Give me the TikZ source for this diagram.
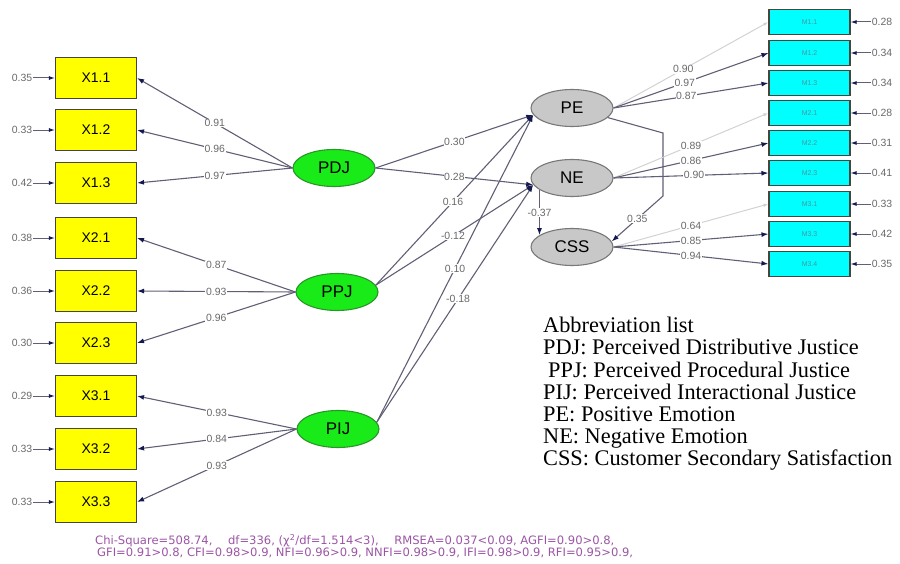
\documentclass[tikz,border=0pt]{standalone}
\usepackage{fontspec}
\setmainfont{Liberation Serif}
\setsansfont{Liberation Sans}
\newfontfamily\fitfont{DejaVu Sans}
\usepackage{tikz}
\usetikzlibrary{arrows.meta,positioning,shapes.geometric}
\definecolor{semedge}{RGB}{95,95,118}
\definecolor{semtip}{RGB}{20,25,80}
\definecolor{semline}{RGB}{70,70,60}
\definecolor{semyel}{RGB}{255,255,0}
\definecolor{semgrn}{RGB}{25,235,25}
\definecolor{semgrnd}{RGB}{40,150,40}
\definecolor{semgry}{RGB}{200,200,200}
\definecolor{semgryd}{RGB}{120,120,120}
\definecolor{semcyn}{RGB}{0,255,255}
\definecolor{semfaint}{RGB}{210,210,210}
\definecolor{semlbl}{RGB}{105,105,105}
\definecolor{semmtxt}{RGB}{70,150,160}
\definecolor{semfit}{RGB}{155,85,165}
\tikzset{
  sembox/.style={
    draw=semline, line width=1.1pt, align=center, inner sep=0pt,
    font=\fontsize{14}{14}\sffamily
  },
  obsx/.style={sembox, fill=semyel, minimum width=81bp, minimum height=41bp},
  obsm/.style={sembox, fill=semcyn, minimum width=81bp, minimum height=25bp,
    font=\fontsize{7}{7}\sffamily, text=semmtxt},
  lat/.style={ellipse, draw=semgrnd, line width=1.1pt, fill=semgrn,
    minimum width=82bp, minimum height=37bp, inner sep=0pt,
    font=\fontsize{17}{17}\sffamily},
  emo/.style={lat, draw=semgryd, fill=semgry},
  arr/.style={-{Latex[length=7bp,width=5bp,color=semtip]}, draw=semedge, line width=1.1pt},
  farr/.style={-{Latex[length=5bp,width=3.5bp,color=semfaint]}, draw=semfaint, line width=1pt},
  earr/.style={-{Latex[length=6bp,width=4bp,color=semtip]}, draw=semedge, line width=1pt},
  coef/.style={fill=white, inner sep=0.6pt, text=semlbl, font=\fontsize{10.5}{10.5}\sffamily},
  err/.style={inner sep=0.5pt, text=semlbl, font=\fontsize{10.5}{10.5}\sffamily},
  fit/.style={text=semfit, anchor=west, inner sep=0pt, font=\fontsize{11.6}{11.6}\fitfont}
}
\begin{document}
\begin{tikzpicture}[x=1bp, y=-1bp]
  \useasboundingbox (0,0) rectangle (900,564);
  % observed indicators, left
  \node[obsx] (X11) at (96,78) {X1.1};
  \node[obsx] (X12) at (96,130) {X1.2};
  \node[obsx] (X13) at (96,183) {X1.3};
  \node[obsx] (X21) at (96,238) {X2.1};
  \node[obsx] (X22) at (96,291) {X2.2};
  \node[obsx] (X23) at (96,343) {X2.3};
  \node[obsx] (X31) at (96,396) {X3.1};
  \node[obsx] (X32) at (96,449) {X3.2};
  \node[obsx] (X33) at (96,502) {X3.3};
  % latent factors
  \node[lat] (PDJ) at (334,168) {PDJ};
  \node[lat] (PPJ) at (337,292) {PPJ};
  \node[lat] (PIJ) at (338,429) {PIJ};
  \node[emo] (PE) at (572,108) {PE};
  \node[emo] (NE) at (572,178) {NE};
  \node[emo] (CSS) at (572,247) {CSS};
  % observed indicators, right
  \node[obsm] (M11) at (809.5,22) {M1.1};
  \node[obsm] (M12) at (809.5,53) {M1.2};
  \node[obsm] (M13) at (809.5,83) {M1.3};
  \node[obsm] (M21) at (809.5,113) {M2.1};
  \node[obsm] (M22) at (809.5,143) {M2.2};
  \node[obsm] (M23) at (809.5,173) {M2.3};
  \node[obsm] (M31) at (809.5,204) {M3.1};
  \node[obsm] (M33) at (809.5,234) {M3.3};
  \node[obsm] (M34) at (809.5,264) {M3.4};
  % error terms
  \node[err] (e11) at (22,78) {0.35};
  \node[err] (e12) at (22,130) {0.33};
  \node[err] (e13) at (22,183) {0.42};
  \node[err] (e21) at (22,238) {0.38};
  \node[err] (e22) at (22,291) {0.36};
  \node[err] (e23) at (22,343) {0.30};
  \node[err] (e31) at (22,396) {0.29};
  \node[err] (e32) at (22,449) {0.33};
  \node[err] (e33) at (22,502) {0.33};
  \node[err] (d11) at (882,22) {0.28};
  \node[err] (d12) at (882,53) {0.34};
  \node[err] (d13) at (882,83) {0.34};
  \node[err] (d21) at (882,113) {0.28};
  \node[err] (d22) at (882,143) {0.31};
  \node[err] (d23) at (882,173) {0.41};
  \node[err] (d31) at (882,204) {0.33};
  \node[err] (d33) at (882,234) {0.42};
  \node[err] (d34) at (882,264) {0.35};
  \draw[earr] (e11) -- (X11);
  \draw[earr] (e12) -- (X12);
  \draw[earr] (e13) -- (X13);
  \draw[earr] (e21) -- (X21);
  \draw[earr] (e22) -- (X22);
  \draw[earr] (e23) -- (X23);
  \draw[earr] (e31) -- (X31);
  \draw[earr] (e32) -- (X32);
  \draw[earr] (e33) -- (X33);
  \draw[earr] (d11) -- (M11);
  \draw[earr] (d12) -- (M12);
  \draw[earr] (d13) -- (M13);
  \draw[earr] (d21) -- (M21);
  \draw[earr] (d22) -- (M22);
  \draw[earr] (d23) -- (M23);
  \draw[earr] (d31) -- (M31);
  \draw[earr] (d33) -- (M33);
  \draw[earr] (d34) -- (M34);
  % loadings, left
  \draw[arr] (PDJ.west) -- node[coef] {0.91} (X11.east);
  \draw[arr] (PDJ.west) -- node[coef] {0.96} (X12.east);
  \draw[arr] (PDJ.west) -- node[coef] {0.97} (X13.east);
  \draw[arr] (PPJ.west) -- node[coef] {0.87} (X21.east);
  \draw[arr] (PPJ.west) -- node[coef] {0.93} (X22.east);
  \draw[arr] (PPJ.west) -- node[coef] {0.96} (X23.east);
  \draw[arr] (PIJ.west) -- node[coef] {0.93} (X31.east);
  \draw[arr] (PIJ.west) -- node[coef] {0.84} (X32.east);
  \draw[arr] (PIJ.west) -- node[coef] {0.93} (X33.east);
  % structural paths
  \draw[arr] (PDJ.east) -- node[coef] {0.30} (PE.190);
  \draw[arr] (PDJ.east) -- node[coef] {0.28} (NE.190);
  \draw[arr] (PPJ.10) -- node[coef, pos=0.49] {0.16} (PE.190);
  \draw[arr] (PPJ.10) -- node[coef, pos=0.49] {-0.12} (NE.190);
  \draw[arr] (PIJ.10) -- node[coef, pos=0.5] {0.10} (PE.190);
  \draw[arr] (PIJ.10) -- node[coef, pos=0.52] {-0.18} (NE.190);
  \draw[arr] (NE.200) -- node[coef] {-0.37} (CSS.160);
  \coordinate (bendA) at (663,133);
  \coordinate (bendB) at (663,196);
  \draw[arr] (PE.-15) -- (bendA) -- (bendB) -- node[coef] {0.35} (CSS.8);
  % loadings, right
  \draw[farr] (PE.east) -- node[coef, pos=0.45] {0.90} (M11.west);
  \draw[arr] (PE.east) -- node[coef, pos=0.46] {0.97} (M12.west);
  \draw[arr] (PE.east) -- node[coef, pos=0.47] {0.87} (M13.west);
  \draw[farr] (NE.east) -- node[coef, pos=0.5] {0.89} (M21.west);
  \draw[arr] (NE.east) -- node[coef, pos=0.5] {0.86} (M22.west);
  \draw[arr] (NE.east) -- node[coef, pos=0.52] {0.90} (M23.west);
  \draw[farr] (CSS.east) -- node[coef, pos=0.5] {0.64} (M31.west);
  \draw[arr] (CSS.east) -- node[coef, pos=0.5] {0.85} (M33.west);
  \draw[arr] (CSS.east) -- node[coef, pos=0.5] {0.94} (M34.west);
  % legend and fit
  \node[anchor=north west, align=left, inner sep=0pt,
    font=\fontsize{22.4}{22.3}\selectfont] (abbr) at (543,317)
    {Abbreviation list\\
     PDJ: Perceived Distributive Justice\\
     \hspace{5bp}PPJ: Perceived Procedural Justice\\
     PIJ: Perceived Interactional Justice\\
     PE: Positive Emotion\\
     NE: Negative Emotion\\
     CSS: Customer Secondary Satisfaction};
  \node[fit] (fit1) at (95,541)
    {Chi-Square=508.74,\hspace{12bp} df=336, (χ\textsuperscript{2}/df=1.514<3),\hspace{12bp} RMSEA=0.037<0.09, AGFI=0.90>0.8,};
  \node[fit] (fit2) at (97,553)
    {GFI=0.91>0.8, CFI=0.98>0.9, NFI=0.96>0.9, NNFI=0.98>0.9, IFI=0.98>0.9, RFI=0.95>0.9,};
\end{tikzpicture}
\end{document}
